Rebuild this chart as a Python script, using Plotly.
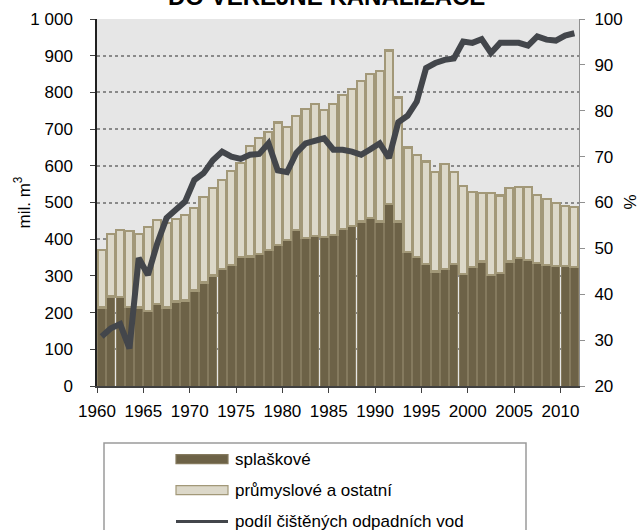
#!/usr/bin/env python
# coding: utf-8

# Odpadní vody vypouštěné do veřejné kanalizace, 1960-2011

import plotly.graph_objects as go

# Data
roky = list(range(1960, 2012))

splaskove = [214, 244, 242, 216, 214, 205, 224, 214, 230, 233,
             260, 282, 301, 319, 330, 351, 353, 359, 371, 385,
             398, 424, 403, 409, 405, 412, 427, 436, 448, 457,
             448, 496, 448, 366, 351, 333, 312, 318, 333, 305,
             325, 339, 303, 307, 339, 348, 344, 335, 330, 327,
             327, 325]

prumyslove = [157, 170, 183, 207, 200, 228, 229, 231, 225, 232,
              224, 232, 238, 243, 256, 256, 301, 316, 322, 333,
              307, 312, 352, 359, 346, 356, 367, 373, 384, 394,
              411, 418, 338, 284, 278, 279, 271, 287, 250, 239,
              203, 186, 222, 212, 200, 195, 199, 185, 180, 171,
              164, 162]

podil_cistenych = [30.8, 32.6, 33.5, 28.2, 47.9, 44.2, 51.1, 56.6, 58.4, 60.2,
                   64.9, 66.4, 69.2, 71.1, 70.0, 69.5, 70.4, 70.6, 72.9, 67.0,
                   66.6, 70.8, 72.9, 73.4, 74.0, 71.5, 71.5, 71.1, 70.4, 71.6,
                   72.9, 69.7, 77.5, 78.9, 82.0, 89.3, 90.4, 91.1, 91.4, 95.1,
                   94.8, 95.6, 92.6, 94.8, 94.8, 94.8, 94.2, 96.2, 95.5, 95.3,
                   96.4, 96.9]

roky_popisky = list(range(1960, 2011, 5))

# Barvy
BARVA_SPLASKOVE = "#6d6247"
OKRAJ_SPLASKOVE = "#857a5e"
BARVA_PRUMYSL = "#dcd8c9"
OKRAJ_PRUMYSL = "#a29878"
BARVA_PODIL = "#43464b"

FONT = "Liberation Sans, Arial, sans-serif"

fig = go.Figure()

fig.add_trace(go.Bar(
    x=roky,
    y=splaskove,
    name="splaškové",
    marker=dict(color=BARVA_SPLASKOVE, line=dict(color=OKRAJ_SPLASKOVE, width=1)),
    showlegend=False,
))

fig.add_trace(go.Bar(
    x=roky,
    y=prumyslove,
    name="průmyslové a ostatní",
    marker=dict(color=BARVA_PRUMYSL, line=dict(color=OKRAJ_PRUMYSL, width=2.2)),
    showlegend=False,
))

fig.add_trace(go.Scatter(
    x=roky,
    y=podil_cistenych,
    name="podíl čištěných odpadních vod",
    mode="lines",
    line=dict(color=BARVA_PODIL, width=6),
    yaxis="y2",
    showlegend=False,
))

fig.update_layout(
    width=644,
    height=530,
    margin=dict(l=97, r=65, t=19, b=144, autoexpand=False),
    paper_bgcolor="white",
    plot_bgcolor="#e6e6e6",
    barmode="stack",
    bargap=0.12,
    font=dict(family=FONT, size=17, color="black"),
    showlegend=False,
    xaxis=dict(
        range=[roky[0] - 0.5, roky[-1] + 0.5],
        tickvals=[r - 0.5 for r in roky_popisky],
        ticktext=[str(r) for r in roky_popisky],
        ticks="outside",
        ticklen=5,
        tickcolor="#404040",
        ticklabelstandoff=4,
        showgrid=False,
        showline=True,
        linecolor="#404040",
        linewidth=1.5,
        zeroline=False,
        automargin=False,
    ),
    yaxis=dict(
        range=[0, 1000],
        tickvals=list(range(0, 1001, 100)),
        ticktext=["0", "100", "200", "300", "400", "500", "600", "700", "800", "900", "1 000"],
        ticks="outside",
        ticklen=5,
        tickcolor="#404040",
        ticklabelstandoff=14,
        showgrid=True,
        gridcolor="#8a8a8a",
        gridwidth=1.5,
        griddash="dot",
        showline=True,
        linecolor="#202020",
        linewidth=1.5,
        zeroline=False,
        automargin=False,
    ),
    yaxis2=dict(
        range=[20, 100],
        tickvals=list(range(20, 101, 10)),
        overlaying="y",
        side="right",
        ticks="outside",
        ticklen=5,
        tickcolor="#909090",
        ticklabelstandoff=6,
        showgrid=False,
        showline=True,
        linecolor="#909090",
        linewidth=1,
        zeroline=False,
        automargin=False,
    ),
)

# pixely snímku -> souřadnice papíru (plocha grafu 97..579 x 19..386)
X0, Y0, SIRKA, VYSKA = 97, 386, 482, 366.7


def px_x(x):
    return (x - X0) / SIRKA


def px_y(y):
    return (Y0 - y) / VYSKA


# Titulek (horní řádek je mimo výřez)
fig.add_annotation(
    text="<b>DO VEŘEJNÉ KANALIZACE</b>",
    xref="paper", yref="paper",
    x=px_x(326), y=px_y(-3.5),
    xanchor="center", yanchor="middle",
    showarrow=False,
    font=dict(family=FONT, size=24, color="black"),
)

# Názvy os
fig.add_annotation(
    text="mil. m<sup>3</sup>",
    xref="paper", yref="paper",
    x=px_x(22), y=0.5,
    xanchor="center", yanchor="middle",
    textangle=-90,
    showarrow=False,
    font=dict(family=FONT, size=17, color="black"),
)
fig.add_annotation(
    text="%",
    xref="paper", yref="paper",
    x=px_x(630), y=0.5,
    xanchor="center", yanchor="middle",
    textangle=-90,
    showarrow=False,
    font=dict(family=FONT, size=17, color="black"),
)

# Vlastní legenda
fig.add_shape(type="rect", xref="paper", yref="paper",
              x0=px_x(104), x1=px_x(526),
              y0=px_y(545), y1=px_y(443),
              line=dict(color="#9a9a9a", width=1.5), fillcolor="white", layer="above")

polozky_legendy = [
    ("splaškové", "bar", BARVA_SPLASKOVE, OKRAJ_SPLASKOVE),
    ("průmyslové a ostatní", "bar", BARVA_PRUMYSL, OKRAJ_PRUMYSL),
    ("podíl čištěných odpadních vod", "line", BARVA_PODIL, BARVA_PODIL),
]
radky_px = [459, 490, 521.5]

for (text, druh, barva, okraj), y_px in zip(polozky_legendy, radky_px):
    if druh == "bar":
        fig.add_shape(type="rect", xref="paper", yref="paper",
                      x0=px_x(176), x1=px_x(228),
                      y0=px_y(y_px + 4.5), y1=px_y(y_px - 4.5),
                      fillcolor=barva, line=dict(color=okraj, width=1.2), layer="above")
    else:
        fig.add_shape(type="line", xref="paper", yref="paper",
                      x0=px_x(176), x1=px_x(228),
                      y0=px_y(y_px), y1=px_y(y_px),
                      line=dict(color=barva, width=3), layer="above")
    fig.add_annotation(
        text=text,
        xref="paper", yref="paper",
        x=px_x(233), y=px_y(y_px),
        xanchor="left", yanchor="middle",
        showarrow=False,
        font=dict(family=FONT, size=17, color="black"),
    )

# bez okraje stránky, aby graf začínal v rohu okna; bez lišty nástrojů
fig.write_html(
    "out.html",
    config={"displayModeBar": False},
    post_script="document.body.style.margin='0';",
)
